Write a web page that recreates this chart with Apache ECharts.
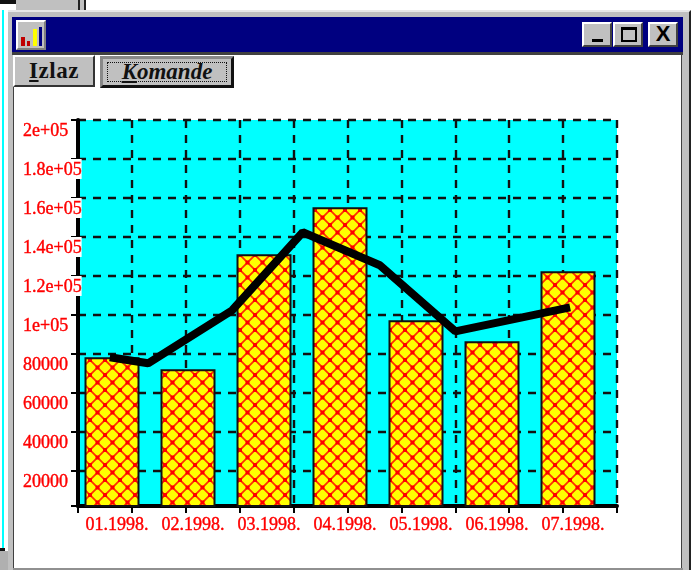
<!DOCTYPE html>
<html>
<head>
<meta charset="utf-8">
<script src="https://cdn.jsdelivr.net/npm/echarts@6/dist/echarts.min.js"></script>
<style>
  html, body { margin: 0; padding: 0; background: #fff; overflow: hidden; }
  #page { position: relative; width: 694px; height: 570px; overflow: hidden; background: #fff; }
  #page div { position: absolute; box-sizing: border-box; }
  #chart { left: 0; top: 0; width: 694px; height: 570px; }
  .face { background: #c0c0c0; border: 2px solid; border-color: #fff #404040 #404040 #fff; }
  .label { font-family: "Liberation Serif", serif; font-size: 23px; color: #111; text-align: center; }
</style>
</head>
<body>
<div id="page">
  <!-- bits of the desktop behind the window -->
  <div style="left:0;top:0;width:16px;height:4px;background:#111"></div>
  <div style="left:16px;top:0;width:62px;height:10px;background:#c0c0c0"></div>
  <div style="left:78px;top:0;width:8px;height:10px;border-left:2px solid #222;border-right:2px solid #222;background:#c0c0c0"></div>
  <div style="left:2px;top:10px;width:2px;height:538px;background:#00ffff"></div>
  <div style="left:0;top:548px;width:5px;height:3px;background:#111"></div>
  <div style="left:0;top:551px;width:9px;height:19px;background:#b0b0b0"></div>
  <!-- window frame -->
  <div style="left:8px;top:10px;width:683px;height:570px;background:#c0c0c0;border-top:2px solid #e8e8e8;border-right:2px solid #222"></div>
  <div style="left:12px;top:17px;width:671px;height:35px;background:#000080"></div>
  <div style="left:12px;top:52px;width:671px;height:3px;background:#404040"></div>
  <div style="left:13px;top:55px;width:669px;height:513px;background:#fff;border-left:1px solid #404040;border-right:1px solid #404040"></div>
  <div style="left:13px;top:568px;width:670px;height:2px;background:#909090"></div>
  <!-- title bar icon and buttons -->
  <div class="face" style="left:16px;top:20px;width:30px;height:30px;border-color:#fff #808080 #808080 #fff">
    <div style="left:3px;top:15px;width:4px;height:9px;background:#c00000"></div>
    <div style="left:9px;top:19px;width:3px;height:5px;background:#c00000"></div>
    <div style="left:15px;top:7px;width:4px;height:17px;background:#ffff00"></div>
    <div style="left:21px;top:5px;width:3px;height:19px;background:#000080"></div>
  </div>
  <div class="face" style="left:582px;top:22px;width:30px;height:25px">
    <div style="left:8px;top:15px;width:11px;height:3px;background:#000"></div>
  </div>
  <div class="face" style="left:613px;top:22px;width:30px;height:25px">
    <div style="left:6px;top:3px;width:16px;height:15px;border:2px solid #000;border-top-width:3px"></div>
  </div>
  <div class="face" style="left:648px;top:22px;width:30px;height:25px">
    <div class="label" style="left:0;top:-3px;width:26px;font-family:'Liberation Sans',sans-serif;font-size:22px;font-weight:bold;color:#000">X</div>
  </div>
  <!-- menu buttons -->
  <div class="face" style="left:13px;top:55px;width:82px;height:32px;border-bottom-color:#333;border-right-color:#333">
    <div class="label" style="left:0;top:1px;width:78px;font-weight:bold;letter-spacing:0.5px"><u>I</u>zlaz</div>
  </div>
  <div class="face" style="left:100px;top:56px;width:134px;height:32px;border:3px solid;border-color:#888 #111 #111 #888">
    <div class="label" style="left:4px;top:3px;width:120px;height:20px;border:1px dotted #111;font-style:italic;font-weight:bold;line-height:18px"><u>K</u>omande</div>
  </div>
  <div id="chart"></div>
</div>
<script>
const months = ["01.1998.", "02.1998.", "03.1998.", "04.1998.", "05.1998.", "06.1998.", "07.1998."];
const barValues = [78300, 72100, 131100, 155200, 97300, 86500, 122400];
// the line does not sit on the bar centres, x is in grid divisions
const lineX = [0.59, 1.30, 2.86, 4.17, 5.60, 7.00, 9.13];
const lineValues = [78300, 75200, 102400, 142400, 125500, 91600, 103900];
const yTicks = [2000, 20000, 40000, 60000, 80000, 100000, 120000, 140000, 160000, 180000, 200000];
const yTickLabels = ["", "20000", "40000", "60000", "80000", "1e+05", "1.2e+05", "1.4e+05", "1.6e+05", "1.8e+05", "2e+05"];

function hatch() {
  let c = document.createElement("canvas");
  c.width = 15;
  c.height = 15;
  let ctx = c.getContext("2d");
  ctx.fillStyle = "#ffff00";
  ctx.fillRect(0, 0, 15, 15);
  ctx.strokeStyle = "#ff3000";
  ctx.lineWidth = 1.8;
  ctx.beginPath();
  ctx.moveTo(-1, -1);
  ctx.lineTo(16, 16);
  ctx.moveTo(16, -1);
  ctx.lineTo(-1, 16);
  ctx.stroke();
  ctx.fillStyle = "#ff0000";
  ctx.fillRect(5.5, 5.5, 4, 4);
  ctx.fillRect(-2, -2, 4, 4);
  ctx.fillRect(13, -2, 4, 4);
  ctx.fillRect(-2, 13, 4, 4);
  ctx.fillRect(13, 13, 4, 4);
  return c;
}

let chart = echarts.init(document.getElementById("chart"), null, { renderer: "canvas" });
let gridPos = { top: 120, height: 386 };
let dashed = { show: true, lineStyle: { color: "#111", width: 2.4, type: [8, 7] } };
let redText = {
  color: "#ff0000",
  fontFamily: "Liberation Serif",
  fontSize: 18,
  textBorderColor: "#ff0000",
  textBorderWidth: 0.4
};
let option = {
  backgroundColor: "transparent",
  animation: false,
  grid: [
    Object.assign({ left: 78, width: 539, show: true, backgroundColor: "#00ffff", borderWidth: 0 }, gridPos),
    Object.assign({ left: 74, width: 532 }, gridPos)
  ],
  xAxis: [
    {
      type: "value",
      gridIndex: 0,
      min: 0,
      max: 10,
      interval: 1,
      splitLine: dashed,
      axisLine: { show: true, lineStyle: { color: "#000", width: 4 } },
      axisTick: { show: true, length: 7, lineStyle: { color: "#000", width: 2 } },
      axisLabel: { show: false }
    },
    {
      type: "category",
      gridIndex: 1,
      data: months,
      axisLine: { show: false },
      axisTick: { show: false },
      axisLabel: Object.assign({
        margin: 10,
        padding: [0, 0, 0, 10],
        interval: 0
      }, redText)
    }
  ],
  yAxis: [
    {
      type: "value",
      gridIndex: 0,
      min: yTicks[0],
      max: 200000,
      splitLine: dashed,
      axisLine: { show: true, lineStyle: { color: "#000", width: 4 } },
      axisTick: { show: true, length: 7, customValues: yTicks, lineStyle: { color: "#000", width: 2 } },
      axisLabel: Object.assign({
        customValues: yTicks,
        formatter: function(v) {
          return yTickLabels[yTicks.indexOf(v)];
        },
        align: "left",
        verticalAlign: "top",
        margin: 55,
        lineHeight: 18,
        padding: [2, 0, 0, 0],
        backgroundColor: "#fff"
      }, redText)
    },
    {
      type: "value",
      gridIndex: 1,
      min: yTicks[0],
      max: 200000,
      show: false,
      splitLine: { show: false }
    }
  ],
  series: [
    {
      type: "bar",
      xAxisIndex: 1,
      yAxisIndex: 1,
      data: barValues,
      barWidth: 55,
      itemStyle: {
        color: { image: hatch(), repeat: "repeat" },
        borderColor: "#111",
        borderWidth: 2
      }
    },
    {
      type: "line",
      xAxisIndex: 0,
      yAxisIndex: 0,
      data: lineX.map((x, i) => [x, lineValues[i]]),
      symbol: "none",
      z: 5,
      lineStyle: { color: "#000", width: 8 }
    }
  ]
};
chart.setOption(option);
</script>
</body>
</html>
